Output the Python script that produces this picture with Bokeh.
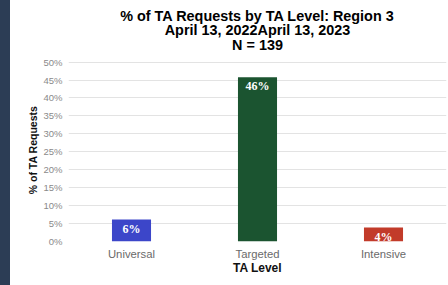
from bokeh.plotting import figure
from bokeh.layouts import row
from bokeh.models import (Range1d, ColumnDataSource, LabelSet, Title, NumeralTickFormatter,
                          FixedTicker, Div)
from bokeh.embed import file_html
from bokeh.resources import INLINE

levels = ["Universal", "Targeted", "Intensive"]
pct = [6.1, 45.8, 3.9]
pct_labels = ["6%", "46%", "4%"]
colors = ["#3c46c9", "#1b5430", "#c23b2a"]
y_ticks = [0, 5, 10, 15, 20, 25, 30, 35, 40, 45, 50]
title_lines = ["% of TA Requests by TA Level: Region 3", "April 13, 2022April 13, 2023", "N = 139"]

src = ColumnDataSource(dict(x=levels, top=pct, lab=pct_labels, color=colors))

p = figure(x_range=levels, y_range=Range1d(0, 51), width=438, height=285,
           output_backend="svg", toolbar_location=None,
           min_border_left=58, min_border_right=2, min_border_top=58, min_border_bottom=44)
p.outline_line_color = None

# title lines: innermost (closest to the plot) added first
title_offsets = [2, -15, -18]
title_standoffs = [10, -17, 11]
for txt, off, so in reversed(list(zip(title_lines, title_offsets, title_standoffs))):
    p.add_layout(Title(text=txt, align="center", offset=off, standoff=so,
                       text_font="Liberation Sans", text_font_size="14.4px",
                       text_font_style="bold", text_color="#000000"), "above")

p.vbar(x="x", top="top", width=0.31, fill_color="color", line_color=None, source=src)

labels = LabelSet(x="x", y="top", text="lab", source=src, text_align="center",
                  text_baseline="top", y_offset=-2, text_color="white",
                  text_font="Liberation Sans", text_font_size="12px", text_font_style="bold")
p.add_layout(labels)

p.yaxis.ticker = FixedTicker(ticks=y_ticks)
p.yaxis.formatter = NumeralTickFormatter(format="0")
p.yaxis.major_label_overrides = {t: f"{t}%" for t in y_ticks}
for ax in (p.xaxis[0], p.yaxis[0]):
    ax.axis_line_color = None
    ax.major_tick_line_color = None
    ax.minor_tick_line_color = None
    ax.major_tick_out = 0
    ax.major_tick_in = 0
    ax.minor_tick_out = 0
    ax.major_label_text_font = "Liberation Sans"
    ax.axis_label_text_font = "Liberation Sans"
    ax.axis_label_text_font_style = "bold"
    ax.axis_label_text_color = "#111111"
p.yaxis.major_label_text_color = "#8a8a8a"
p.xaxis.major_label_text_color = "#6a6a6a"
p.yaxis.major_label_text_font_size = "9.5px"
p.xaxis.major_label_text_font_size = "11.3px"
p.yaxis.axis_label_text_font_size = "10.5px"
p.xaxis.axis_label_text_font_size = "12px"
p.yaxis.axis_label = "% of TA Requests"
p.xaxis.axis_label = "TA Level"
p.yaxis.major_label_standoff = 6
p.xaxis.major_label_standoff = 6
p.yaxis.axis_label_standoff = 1
p.xaxis.axis_label_standoff = -2

p.xgrid.grid_line_color = None
p.ygrid.grid_line_color = "#e3e3e3"
p.ygrid.ticker = FixedTicker(ticks=y_ticks)
p.x_range.range_padding = 0

strip = Div(text="", width=10, height=285, margin=0, styles={"background-color": "#2c3d55"})
layout = row(strip, p, spacing=0)

open("out.html", "w").write(file_html(layout, INLINE))
